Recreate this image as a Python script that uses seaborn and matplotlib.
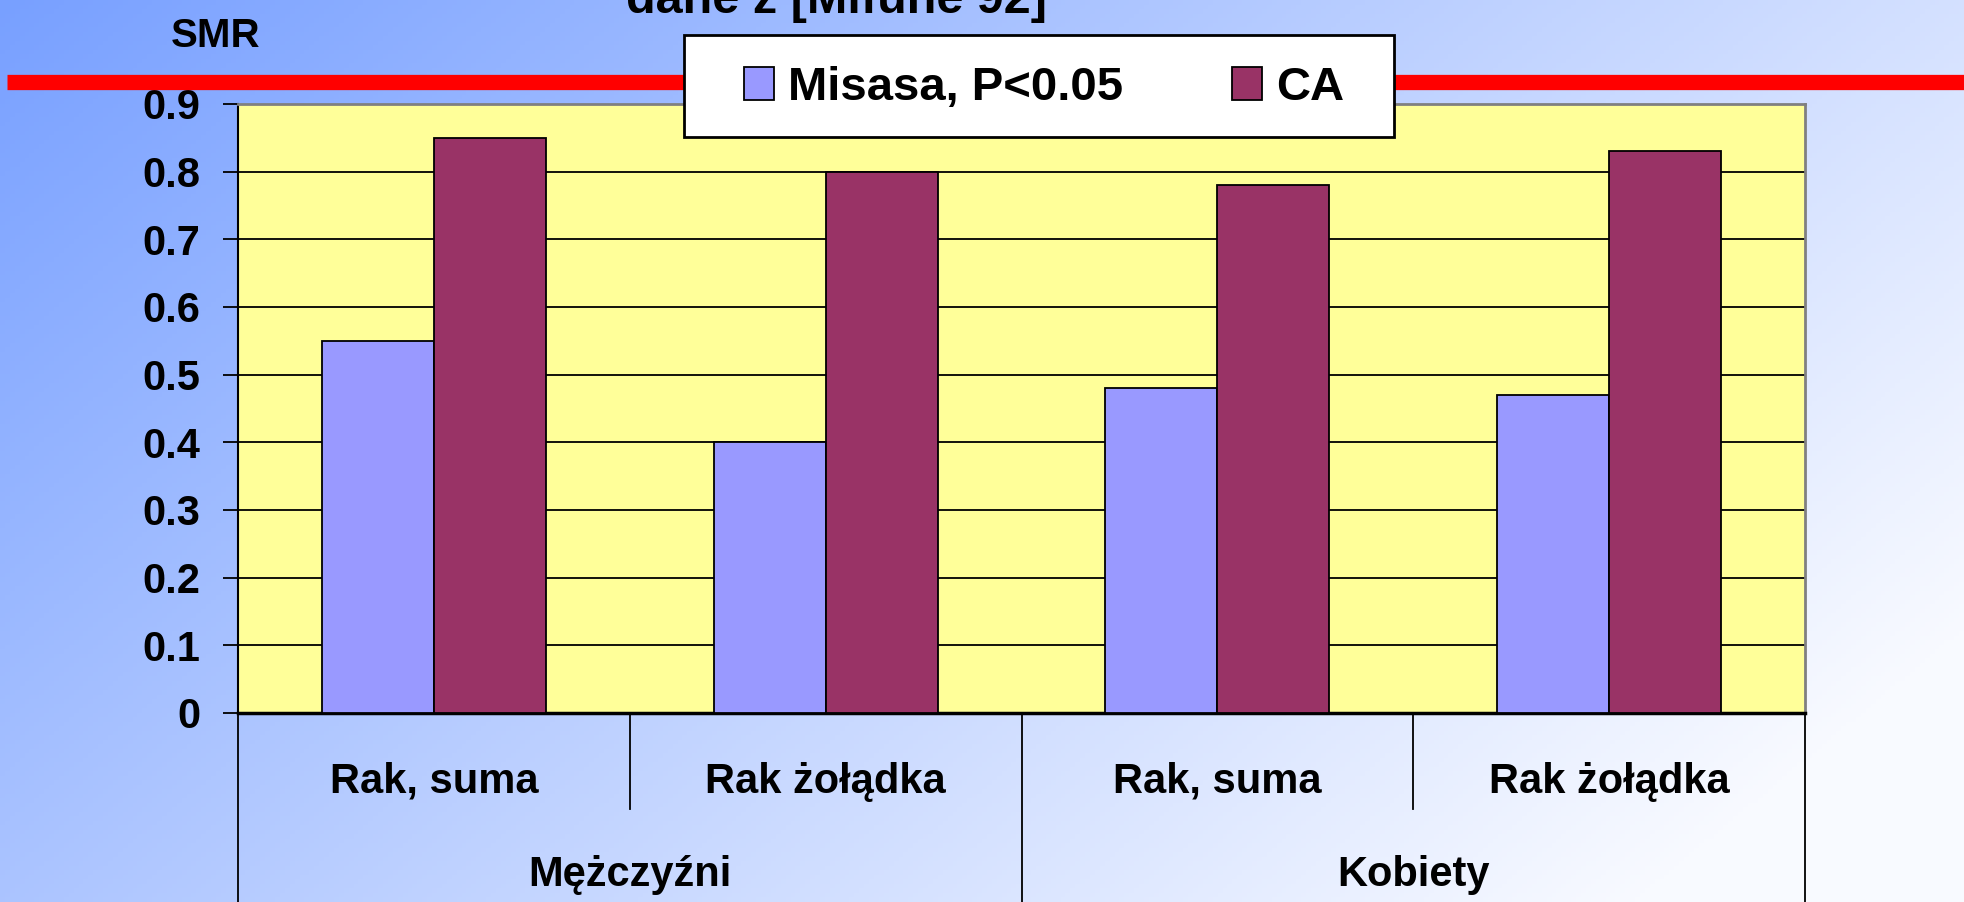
import matplotlib
matplotlib.use("Agg")
import matplotlib.pyplot as plt
import matplotlib.transforms as mtransforms
from matplotlib.patches import Rectangle
from matplotlib.lines import Line2D
import numpy as np
import pandas as pd
import seaborn as sns

# dane
grupy = ['Mężczyźni', 'Mężczyźni', 'Kobiety', 'Kobiety']
nowotwory = ['Rak, suma', 'Rak żołądka', 'Rak, suma', 'Rak żołądka']
misasa = [0.55, 0.40, 0.48, 0.47]
ca = [0.85, 0.80, 0.78, 0.83]
serie = ['Misasa, P<0.05', 'CA']
kolory = ['#9999FF', '#993366']
y_ticks = [0, 0.1, 0.2, 0.3, 0.4, 0.5, 0.6, 0.7, 0.8, 0.9]
y_labels = ['0', '0.1', '0.2', '0.3', '0.4', '0.5', '0.6', '0.7', '0.8', '0.9']

plt.rcParams['font.family'] = ['Liberation Sans', 'DejaVu Sans']
plt.rcParams['font.weight'] = 'bold'

W, H = 1964, 902
fig = plt.figure(figsize=(W / 100, H / 100), dpi=100)

# tlo z gradientem
bg = fig.add_axes([0, 0, 1, 1], zorder=-10)
xx, yy = np.meshgrid(np.linspace(0, 1, 400), np.linspace(0, 1, 200))
t = np.clip(0.72 * xx + 0.40 * yy, 0, 1)
c0 = np.array([120, 160, 255]) / 255
c1 = np.array([248, 250, 255]) / 255
img = c0[None, None, :] * (1 - t[..., None]) + c1[None, None, :] * t[..., None]
bg.imshow(img, extent=[0, 1, 0, 1], aspect='auto', origin='upper')
bg.set_xlim(0, 1)
bg.set_ylim(0, 1)
bg.axis('off')

keys = [g + '|' + n for g, n in zip(grupy, nowotwory)]
df = pd.DataFrame({
    'key': keys * 2,
    'seria': [serie[0]] * 4 + [serie[1]] * 4,
    'smr': misasa + ca,
})

ax = fig.add_axes([238 / W, 1 - 713 / H, (1805 - 238) / W, (713 - 104) / H])
ax.set_facecolor('#FFFF99')
sns.barplot(data=df, x='key', y='smr', hue='seria', order=keys, hue_order=serie,
            palette=dict(zip(serie, kolory)), saturation=1, errorbar=None,
            width=0.572, gap=0, edgecolor='black', linewidth=1.3, ax=ax, zorder=3)
handles, labels = ax.get_legend_handles_labels()
ax.get_legend().remove()

ax.set_ylim(0, 0.9)
ax.set_xlim(-0.5, 3.5)
ax.set_yticks(y_ticks)
ax.set_yticklabels(y_labels, fontsize=30, fontweight='bold')
ax.yaxis.grid(True, color='black', linewidth=1.3, zorder=1)
ax.set_axisbelow(True)
ax.tick_params(axis='y', length=11, width=1.3, pad=16, color='black')
ax.set_xticks([])
ax.set_xlabel('')
ax.set_ylabel('')
for s in ['top', 'right']:
    ax.spines[s].set_color('#808080')
    ax.spines[s].set_linewidth(2)
ax.spines['left'].set_color('black')
ax.spines['left'].set_linewidth(1.5)
ax.spines['bottom'].set_color('black')
ax.spines['bottom'].set_linewidth(2.5)

# dwupoziomowa os x
tr = mtransforms.blended_transform_factory(ax.transData, ax.transAxes)
for xb in [0.5, 2.5]:
    ax.plot([xb, xb], [0, -0.158], transform=tr, color='black', lw=1.3, clip_on=False)
for xb in [-0.5, 1.5, 3.5]:
    ax.plot([xb, xb], [0, -0.4], transform=tr, color='black', lw=1.3, clip_on=False)
for i, n in enumerate(nowotwory):
    ax.text(i, -0.113, n, transform=tr, ha='center', va='center', fontsize=30,
            fontweight='bold')
for i, g in enumerate(['Mężczyźni', 'Kobiety']):
    ax.text(2 * i + 0.5, -0.266, g, transform=tr, ha='center', va='center',
            fontsize=30, fontweight='bold')

# czerwona linia, tytul, SMR
fig.add_artist(Line2D([7 / W, 1], [1 - 82 / H, 1 - 82 / H], color='red', lw=11,
                      solid_capstyle='butt', zorder=2))
fig.text(836 / W, 1 - 13 / H, 'dane z [Mifune 92]', ha='center', va='baseline',
         fontsize=35, fontweight='bold')
fig.text(216 / W, 1 - 47 / H, 'SMR', ha='center', va='baseline', fontsize=29,
         fontweight='bold')

# legenda
fig.add_artist(Rectangle((684 / W, 1 - 137 / H), (1394 - 684) / W, (137 - 35) / H,
                         transform=fig.transFigure, facecolor='white', edgecolor='black',
                         lw=2, zorder=10))
leg = fig.legend(handles, labels, loc='center', bbox_to_anchor=(1044 / W, 1 - 88 / H),
                 ncol=2, frameon=False, fontsize=34, handlelength=0.64,
                 handleheight=0.72, handletextpad=0.3, columnspacing=2.3)
leg.set_zorder(11)
for txt in leg.get_texts():
    txt.set_fontweight('bold')

fig.savefig('out.png', dpi=100)
